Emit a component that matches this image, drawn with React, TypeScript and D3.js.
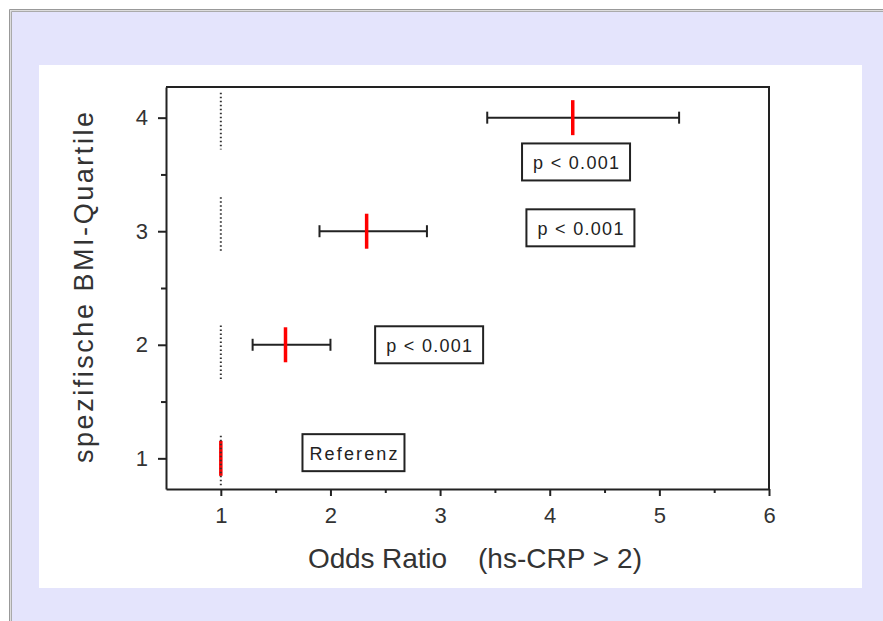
import { useEffect, useRef } from 'react';
import * as d3 from 'd3';

// BMI quartile vs odds ratio of hs-CRP > 2
const quartiles = [1, 2, 3, 4];
const oddsRatio = [1, 1.59, 2.33, 4.21];
const ciLower = [null, 1.29, 1.9, 3.43];
const ciUpper = [null, 2.0, 2.88, 5.18];
const refTop = [1.2, 2.17, 3.3, 4.22];
const refBottom = [0.76, 1.68, 2.81, 3.72];
const boxLabels = ['Referenz', 'p < 0.001', 'p < 0.001', 'p < 0.001'];
const boxX = [2.21, 2.9, 4.28, 4.24];
const boxY = [1.05, 2.0, 3.03, 3.61];
const xTicks = [1, 2, 3, 4, 5, 6];
const xMinor = [1.5, 2.5, 3.5, 4.5, 5.5];
const yTicks = [1, 2, 3, 4];
const yMinor = [1.5, 2.5, 3.5];

const [W, H] = [883, 621];
const [left, right, top, bottom] = [166, 769, 87, 489];
const font = '"Liberation Sans", Arial, sans-serif';

function App() {
    const node = useRef(null);
    useEffect(() => {
        if (!node.current) return;
        const svg = d3.select(node.current);
        svg.selectAll('*').remove();

        // page background
        svg.append('rect').attr('width', W).attr('height', H).attr('fill', '#ffffff');
        svg.append('rect').attr('x', 11).attr('y', 11).attr('width', W).attr('height', H).attr('fill', '#e4e4fc');
        svg.append('path').attr('d', `M9.5,${H} V9.5 H${W}`).attr('fill', 'none').attr('stroke', '#999');
        svg.append('path').attr('d', `M10.5,${H} V10.5 H${W}`).attr('fill', 'none').attr('stroke', '#ddd');
        svg.append('path').attr('d', `M11.5,${H} V11.5 H${W}`).attr('fill', 'none').attr('stroke', '#aaa');
        svg.append('rect').attr('x', 39).attr('y', 65).attr('width', 823).attr('height', 523).attr('fill', '#fff');

        const x = d3.scaleLinear().domain([0.5, 6]).range([left, right]);
        const y = d3.scaleLinear().domain([0.73, 4.27]).range([bottom, top]);

        // frame (top + right)
        svg.append('path')
            .attr('d', `M${left},${top} H${right} V${bottom}`)
            .attr('fill', 'none').attr('stroke', '#222').attr('stroke-width', 2);

        const xMaj = svg.append('g').attr('transform', `translate(0,${bottom})`)
            .call(d3.axisBottom(x).tickValues(xTicks).tickSize(7).tickSizeOuter(0).tickPadding(11).tickFormat(d3.format('d')));
        svg.append('g').attr('transform', `translate(0,${bottom})`)
            .call(d3.axisBottom(x).tickValues(xMinor).tickSize(4).tickSizeOuter(0).tickFormat(() => ''))
            .select('.domain').remove();
        const yMaj = svg.append('g').attr('transform', `translate(${left},0)`)
            .call(d3.axisLeft(y).tickValues(yTicks).tickSize(8).tickSizeOuter(0).tickPadding(10).tickFormat(d3.format('d')));
        svg.append('g').attr('transform', `translate(${left},0)`)
            .call(d3.axisLeft(y).tickValues(yMinor).tickSize(5).tickSizeOuter(0).tickFormat(() => ''))
            .select('.domain').remove();

        svg.selectAll('.domain, .tick line').attr('stroke', '#222').attr('stroke-width', 2);
        [xMaj, yMaj].forEach(g => g.selectAll('text')
            .attr('font-family', font).attr('font-size', 22).attr('fill', '#333'));

        // axis titles
        svg.append('text').attr('x', 308).attr('y', 568)
            .attr('font-family', font).attr('font-size', 28).attr('fill', '#333')
            .attr('textLength', 139).attr('lengthAdjust', 'spacing').text('Odds Ratio');
        svg.append('text').attr('x', 478).attr('y', 568)
            .attr('font-family', font).attr('font-size', 28).attr('fill', '#333')
            .attr('textLength', 164).attr('lengthAdjust', 'spacing').text('(hs-CRP > 2)');
        svg.append('text')
            .attr('transform', `translate(93,${(112 + 463) / 2}) rotate(-90)`)
            .attr('text-anchor', 'middle')
            .attr('font-family', font).attr('font-size', 27).attr('fill', '#333')
            .attr('textLength', 351).attr('lengthAdjust', 'spacing').text('spezifische BMI-Quartile');

        // error bars
        const bars = svg.append('g');
        quartiles.forEach((q, i) => {
            const lo = ciLower[i], hi = ciUpper[i];
            if (lo == null || hi == null) return;
            bars.append('line').attr('x1', x(lo)).attr('x2', x(hi)).attr('y1', y(q)).attr('y2', y(q))
                .attr('stroke', '#222').attr('stroke-width', 2);
            [lo, hi].forEach(v => bars.append('line')
                .attr('x1', x(v)).attr('x2', x(v)).attr('y1', y(q) - 6).attr('y2', y(q) + 6)
                .attr('stroke', '#222').attr('stroke-width', 2));
        });

        // point estimates
        svg.append('g').selectAll('line').data(quartiles).enter().append('line')
            .attr('x1', (d, i) => x(oddsRatio[i])).attr('x2', (d, i) => x(oddsRatio[i]))
            .attr('y1', d => y(d) - 17.5).attr('y2', d => y(d) + 17.5)
            .attr('stroke', '#ff0000').attr('stroke-width', 3.5);

        // reference lines at OR = 1
        svg.append('g').selectAll('line').data(quartiles).enter().append('line')
            .attr('x1', x(1)).attr('x2', x(1))
            .attr('y1', (d, i) => y(refTop[i])).attr('y2', (d, i) => y(refBottom[i]))
            .attr('stroke', '#333').attr('stroke-width', 2).attr('stroke-dasharray', '1.5 2.5');

        // p-value boxes
        const boxes = svg.append('g').selectAll('g').data(quartiles).enter().append('g')
            .attr('transform', (d, i) => `translate(${x(boxX[i])},${y(boxY[i])})`);
        boxes.append('rect')
            .attr('x', (d, i) => boxLabels[i] === 'Referenz' ? -51 : -54)
            .attr('y', -18.5)
            .attr('width', (d, i) => boxLabels[i] === 'Referenz' ? 102 : 108)
            .attr('height', 37)
            .attr('fill', '#fff').attr('stroke', '#222').attr('stroke-width', 2);
        boxes.append('text')
            .attr('text-anchor', 'middle').attr('y', 7)
            .attr('font-family', font).attr('font-size', 18).attr('fill', '#222')
            .attr('textLength', (d, i) => boxLabels[i] === 'Referenz' ? 88 : 86)
            .attr('lengthAdjust', 'spacing')
            .text((d, i) => boxLabels[i]);
    }, [node]);

    return (
        <div style={{ position: 'absolute', left: 0, top: 0 }}>
            <svg ref={node} width={W} height={H} style={{ display: 'block' }}></svg>
        </div>
    );
}

export default App;
